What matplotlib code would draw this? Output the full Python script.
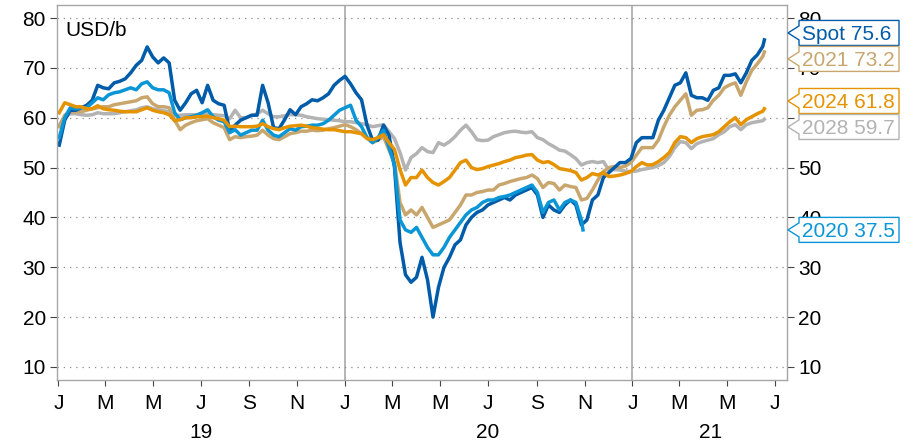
import numpy as np
import pandas as pd
import matplotlib
matplotlib.use("Agg")
import matplotlib.pyplot as plt
from matplotlib.patches import Polygon

plt.rcParams['font.family'] = ['Liberation Sans', 'DejaVu Sans']

# weekly observations, plus the last trading day / expiry of the 2020 contract
weeks = pd.date_range("2019-01-02", periods=129, freq="7D")
last_day = pd.Timestamp("2021-06-18")
expiry_2020 = pd.Timestamp("2020-10-30")

spot = [
    54.5, 59.5, 61.5, 61.5, 62, 62.5, 63.5, 66.5, 66, 65.8,
    67, 67.3, 67.8, 69, 70.5, 71.5, 74.2, 72.2, 71, 72,
    71, 63.5, 61.5, 63, 64.8, 65.5, 63, 66.5, 63.5, 62.8,
    62.5, 57.5, 58.5, 59.5, 60, 60.5, 60.5, 66.5, 63, 58,
    57.8, 59.6, 61.6, 60.6, 62.2, 62.8, 63.6, 63.4, 64, 64.8,
    66.5, 67.5, 68.3, 66.8, 65, 63.6, 58.5, 55.5, 55.5, 58.5,
    56.5, 50, 35, 28.5, 27, 28, 32, 27.5, 20, 26,
    30, 32, 34.5, 35.5, 38.5, 40, 41, 41.5, 42.5, 43,
    43.5, 44, 43.5, 44.5, 45, 45.5, 46, 44.5, 40, 42.5,
    41.5, 41, 42.5, 43.5, 42.5, 38.5, 39.5, 43.5, 44.5, 48,
    49, 50, 51, 51, 51.8, 55, 56, 56, 56, 59.5,
    61.5, 64, 66.5, 67, 69, 64.5, 64, 64, 63.5, 65.5,
    66, 68.5, 68.5, 68.8, 67, 69, 71.5, 72.6, 74.3, 75.6,
]

fut_2020 = [
    56, 60, 62, 61.8, 62, 62, 63, 64, 63.6, 64.6,
    65, 65.2, 65.6, 66, 65.6, 66.8, 67.2, 66, 65.6, 65.6,
    65, 61, 59.6, 60, 60.2, 60.5, 61, 61.6, 60.2, 59.5,
    59.2, 57, 57.6, 56.5, 57, 57.5, 57.5, 59.5, 57.5, 56.5,
    56.2, 57, 57.8, 57.5, 58.2, 58.3, 58.5, 58.5, 58.8, 59.5,
    60.5, 61.5, 62, 62.5, 59.5, 58.2, 56, 55, 56, 57.5,
    54, 50.5, 39.5, 37.5, 37, 38, 36, 34, 32.5, 32.5,
    34, 36, 37.5, 39, 40.5, 41.5, 42, 43, 43.5, 43.5,
    44, 44.2, 44.5, 45, 45.5, 46, 46.5, 45, 41, 43,
    43.5, 41.5, 43, 43.5, 43, 39.5, 37.5,
]

fut_2021 = [
    58.2, 60.5, 61.2, 61.2, 61.2, 61.5, 61.8, 62, 62.2, 62.2,
    62.6, 62.8, 63, 63.2, 63.4, 64, 64.2, 62.8, 62.2, 62.2,
    62, 59.5, 57.6, 58.5, 59, 59.4, 59.6, 59.8, 59, 58.5,
    58, 55.6, 56.2, 56, 56.2, 56.3, 56.5, 57.5, 56.5, 55.8,
    55.6, 56.2, 56.8, 57, 57.3, 57.3, 57.5, 57.4, 57.5, 57.8,
    58, 58.3, 58.6, 58.2, 57.6, 56.8, 56, 55, 55.5, 56.2,
    53.5, 51, 43, 40.5, 41.5, 40.5, 42, 40, 38, 38.5,
    39, 39.5, 41, 42.5, 44.5, 44.5, 45, 45.2, 45.5, 45.5,
    46.5, 46.8, 47.2, 47.5, 47.8, 48, 48.5, 47.8, 46, 47,
    46.8, 45.5, 46.5, 46.2, 46, 43.5, 43.8, 45.5, 47.5, 49.2,
    50, 50.2, 50, 50.3, 51, 52.5, 54, 54, 54, 55.5,
    58.2, 60.5, 62.2, 63.5, 64.8, 60.5, 61.5, 61.6, 62, 63.5,
    64.5, 66, 66.6, 67, 64.5, 67.2, 69.5, 70.8, 72.3, 73.2,
]

fut_2024 = [
    61, 63, 62.6, 62.2, 62.2, 61.8, 61.8, 62.4, 61.8, 61.6,
    61.5, 61.3, 61.2, 61.2, 61.2, 61.6, 62, 61.5, 61.2, 61,
    60.6, 59.4, 59.6, 60, 60, 60.2, 60.2, 60.3, 60, 59.8,
    59.5, 58.2, 58.3, 58.2, 58.2, 58.2, 58.3, 58.8, 58.2, 57.8,
    57.6, 58, 58.3, 58.4, 58.5, 58.3, 58, 57.9, 57.7, 57.6,
    57.6, 57.4, 57.2, 57.2, 57, 56.8, 55.8, 55.6, 56, 56.6,
    55, 53.6, 49.6, 46.5, 48, 48, 49.5, 48, 47, 46.5,
    47.2, 48, 49.5, 51, 51.5, 50, 49.6, 49.8, 50.2, 50.5,
    50.8, 51.2, 51.5, 52, 52.2, 52.5, 52.6, 51.5, 51, 51.2,
    50.6, 49.8, 49.6, 49.4, 49, 47.5, 48, 48.8, 48.5, 49,
    48.2, 48.3, 48.5, 48.8, 49.2, 50.2, 51, 50.5, 50.6, 51.2,
    52, 53, 55, 56.2, 56, 55, 55.8, 56.2, 56.4, 56.6,
    57.2, 58.2, 59.2, 60, 58.6, 59.6, 60.2, 60.8, 61.3, 61.8,
]

fut_2028 = [
    58.5, 60.2, 60.8, 60.8, 60.6, 60.5, 60.6, 61, 60.8, 60.8,
    60.8, 61, 61.2, 61.4, 61.6, 62, 62.2, 61.8, 61.6, 61.4,
    61.2, 60.4, 60.5, 60.6, 60.6, 60.6, 60.8, 60.8, 60.6, 60.5,
    60.4, 59.8, 61.5, 60, 60, 60.4, 60.8, 61.5, 60.8, 60.2,
    60.2, 60.4, 60.6, 60.6, 60.5, 60.2, 60, 59.8, 59.7, 59.6,
    59.5, 59.4, 59.2, 59.2, 59, 58.8, 58.6, 58.2, 58.4, 58.6,
    57.2, 55.8, 53, 49.5, 52, 52.8, 54, 53.2, 53, 55,
    54.5, 55.2, 56.2, 57.5, 58.5, 57.2, 55.6, 55.4, 55.5, 56.2,
    56.6, 57, 57.2, 57.3, 57.1, 57, 57.2, 56, 55.6, 54.8,
    54.2, 53.5, 53.3, 52.6, 51.8, 50.5, 51, 51.2, 51, 51.2,
    49.5, 49.6, 49.5, 49.3, 49.2, 49.3, 49.6, 49.8, 50, 50.4,
    51, 52.2, 54, 55.2, 55, 53.8, 54.8, 55.2, 55.5, 55.8,
    56.6, 57.2, 58.2, 58.6, 57.6, 58.6, 59, 59.2, 59.4, 59.7,
]

full_dates = list(weeks) + [last_day]
dates_2020 = list(weeks[:96]) + [expiry_2020]

# drawing order: bottom first
series = [
    ("2028", full_dates, fut_2028, "#B3B3B3"),
    ("2021", full_dates, fut_2021, "#C9A66E"),
    ("Spot", full_dates, spot, "#005CA9"),
    ("2020", dates_2020, fut_2020, "#0A96D6"),
    ("2024", full_dates, fut_2024, "#E59300"),
]
label_order = ["Spot", "2021", "2024", "2028", "2020"]

W, H = 914, 444
fig = plt.figure(figsize=(W / 100, H / 100), dpi=100)
ax = fig.add_axes([57 / W, 64 / H, 730 / W, 375 / H])

for name, d, v, c in series:
    ax.plot(d, v, color=c, lw=2.5, solid_joinstyle='round')

ax.set_xlim(pd.Timestamp("2018-12-30 04:00"), pd.Timestamp("2021-07-16 20:00"))
ax.set_ylim(7.39, 82.61)
ax.set_yticks(range(10, 90, 10))
ax.grid(axis='y', linestyle=(0, (1, 4)), color='#8C8C8C', lw=0.9)
for yr in ["2020-01-01", "2021-01-01"]:
    ax.axvline(pd.Timestamp(yr), color='#A8A8A8', lw=1.2, zorder=0.5)

ticks = pd.date_range("2019-01-01", "2021-07-01", freq="2MS")
ax.set_xticks(ticks)
ax.set_xticklabels([t.strftime("%b")[0] for t in ticks])

for sp in ax.spines.values():
    sp.set_color('#A6A6A6')
    sp.set_linewidth(1.0)

ax.tick_params(axis='x', length=4, color='#444444', pad=6, labelsize=15)
ax.tick_params(axis='y', length=5, color='#444444', pad=3, labelsize=15,
               left=True, right=True, labelleft=True, labelright=True)

for yr, pos in [("19", "2019-07-01"), ("20", "2020-07-01"), ("21", "2021-04-10")]:
    ax.text(pd.Timestamp(pos), -0.139, yr, transform=ax.get_xaxis_transform(),
            ha='center', va='center', fontsize=15)

ax.text(0.012, 0.933, "USD/b", transform=ax.transAxes, ha='left', va='center', fontsize=15)


# end-value labels on the right, pushed apart so they don't overlap
def spread(values, gap):
    pos = list(values)
    for _ in range(100):
        order = np.argsort(pos)[::-1]
        moved = False
        for a, b in zip(order[:-1], order[1:]):
            if pos[a] - pos[b] < gap - 1e-9:
                mid = (pos[a] + pos[b]) / 2
                pos[a] = mid + gap / 2
                pos[b] = mid - gap / 2
                moved = True
        if not moved:
            break
    return pos


lookup = {s[0]: s for s in series}
last_vals = [lookup[n][2][-1] for n in label_order]
label_y = spread(last_vals, 5.21)

x_ref = ax.get_xlim()[0]
for name, yv, lv in zip(label_order, label_y, last_vals):
    c = lookup[name][3]
    yc = ax.transData.transform((x_ref, yv))[1]
    tip, left, right, hh, nh = 788, 799, 899, 12.5, 7
    pts = [(tip, yc), (left, yc + nh), (left, yc + hh), (right, yc + hh),
           (right, yc - hh), (left, yc - hh), (left, yc - nh)]
    pts = [(px / W, py / H) for px, py in pts]
    fig.add_artist(Polygon(pts, closed=True, transform=fig.transFigure,
                           fc='white', ec=c, lw=1.0, zorder=5))
    fig.text(802 / W, yc / H, f"{name} {lv:.1f}", color=c, fontsize=15,
             ha='left', va='center_baseline', zorder=6)

fig.savefig("out.png", dpi=100)
